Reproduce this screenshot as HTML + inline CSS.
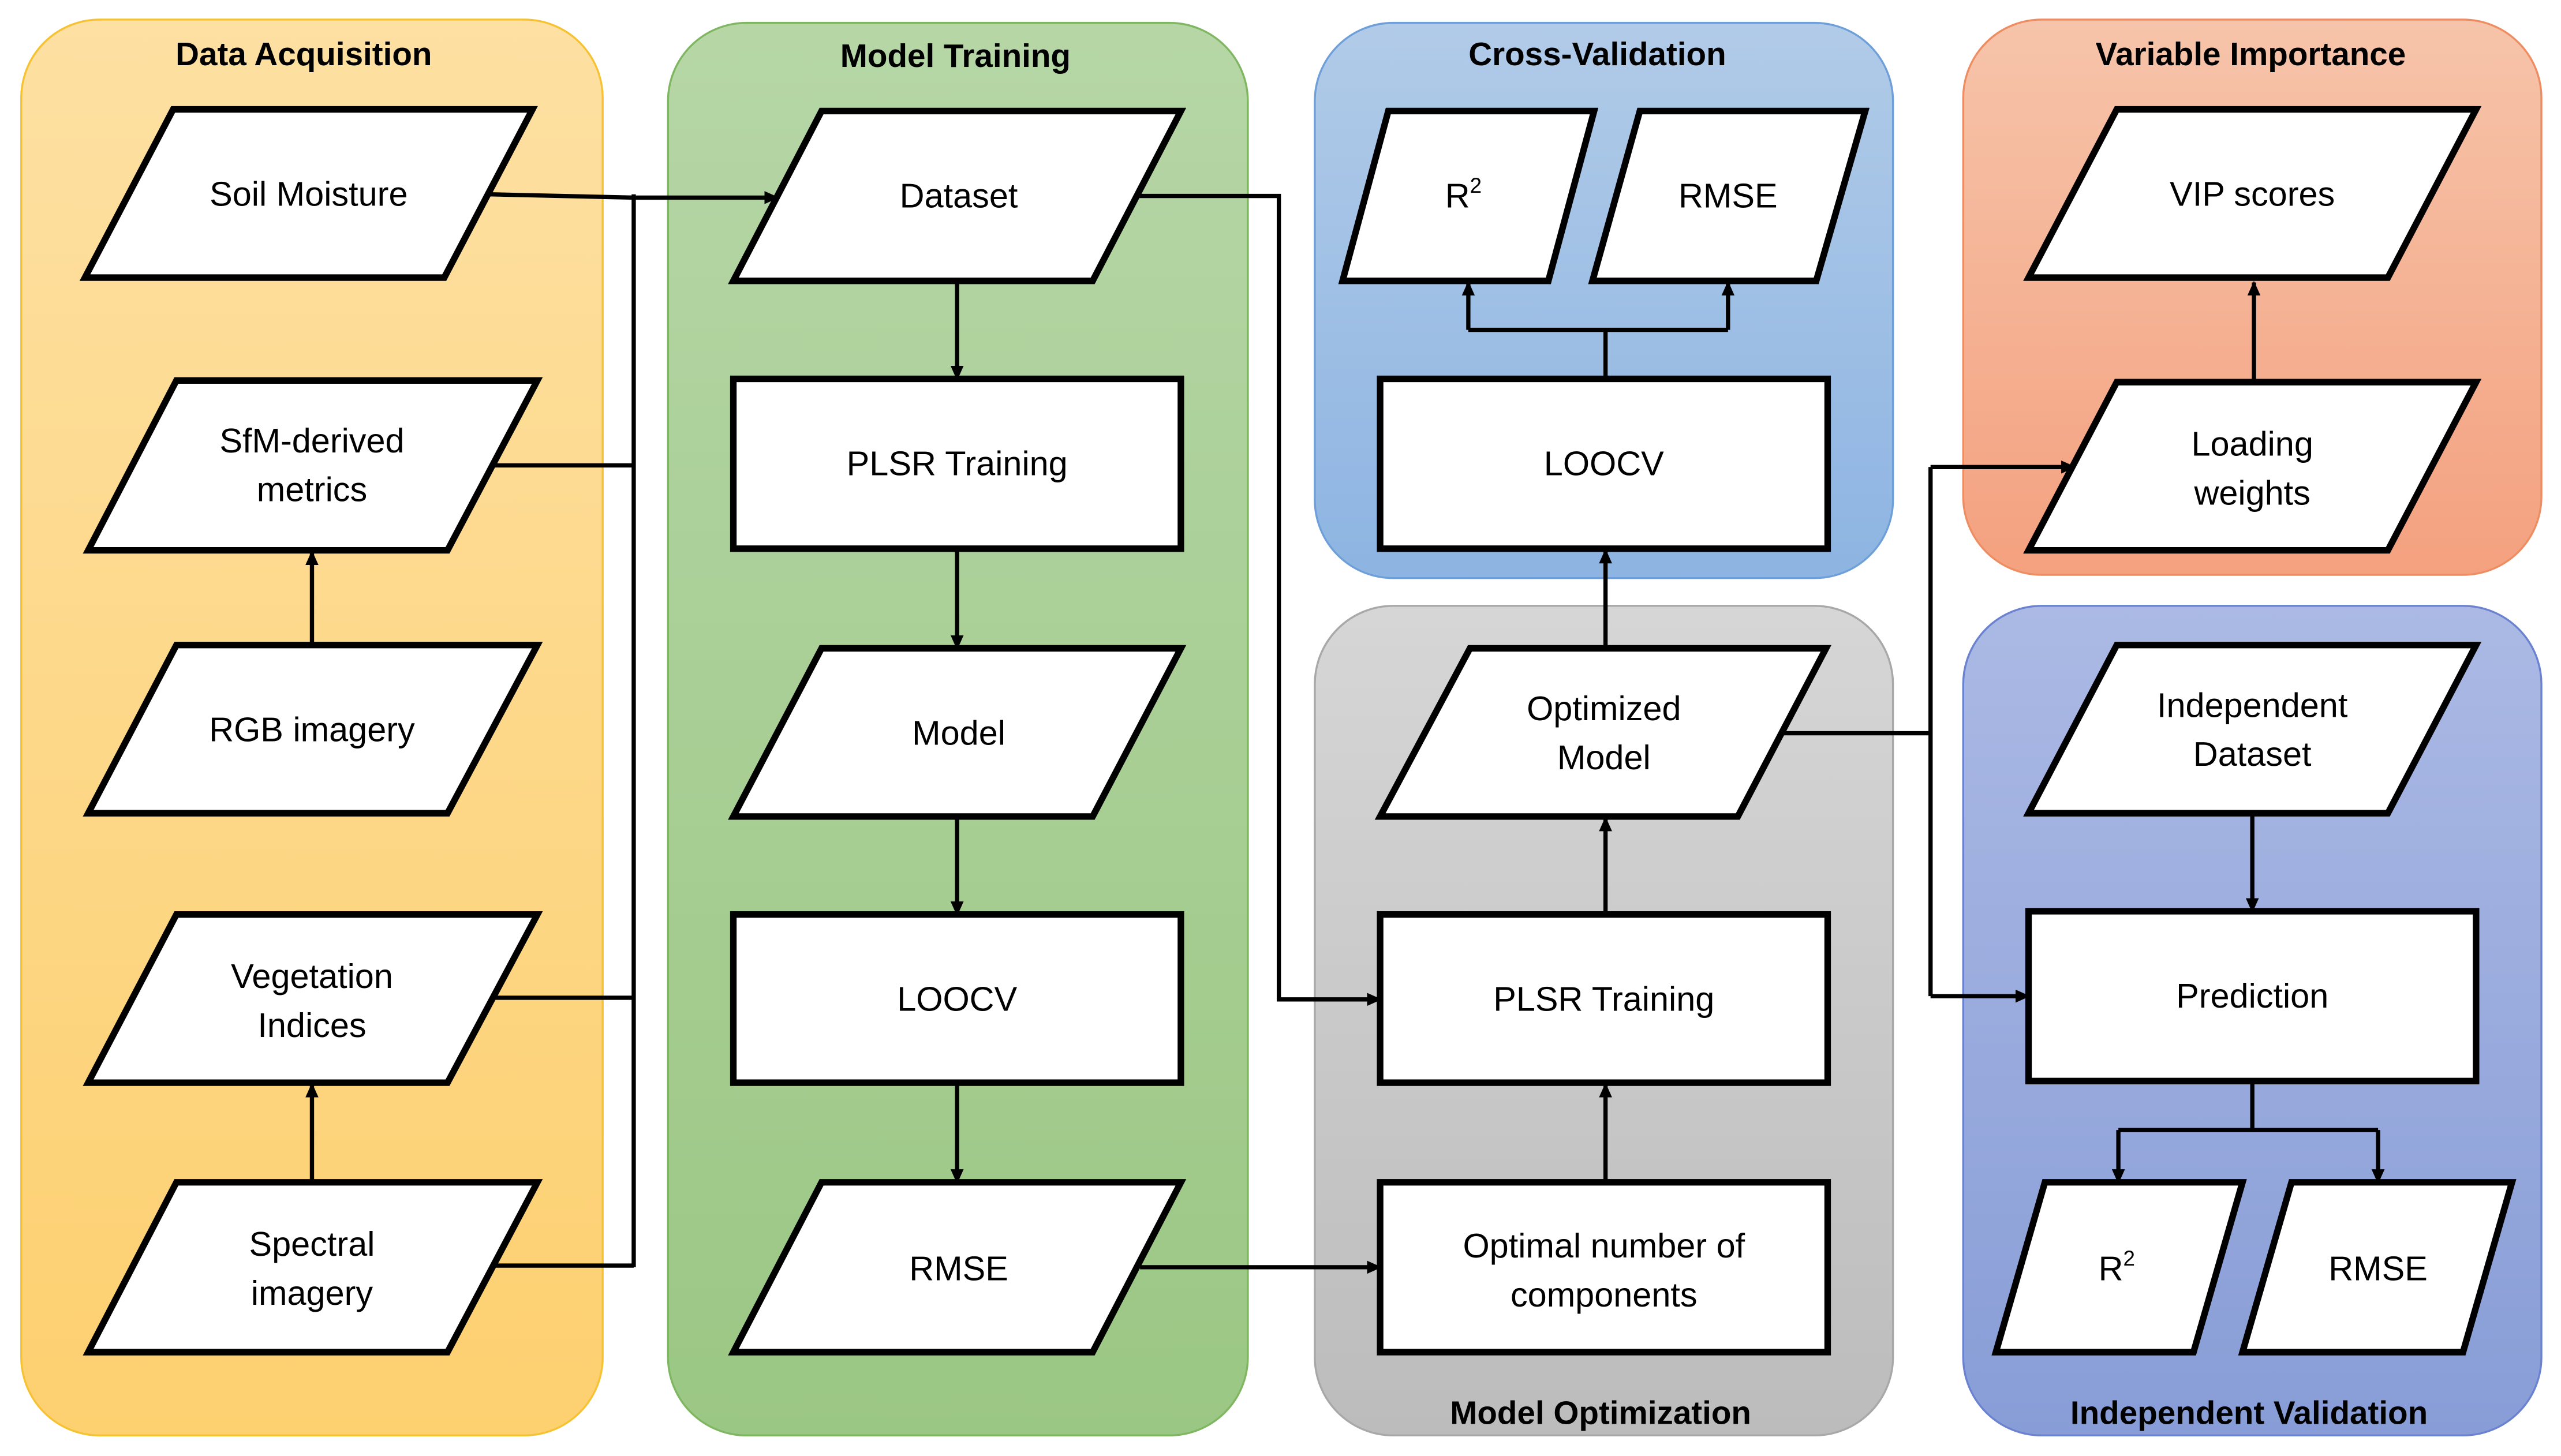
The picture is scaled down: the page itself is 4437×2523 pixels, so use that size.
<!DOCTYPE html>
<html><head><meta charset="utf-8"><style>
html,body{margin:0;padding:0;background:#fff;}
svg{display:block;}
text{font-family:"Liberation Sans",sans-serif;}
.t{font-size:20px;font-weight:bold;text-anchor:middle;fill:#000;}
.l{font-size:21px;text-anchor:middle;fill:#000;}
.s{fill:#fff;stroke:#000;stroke-width:4;}
.c{fill:none;stroke:#000;stroke-width:2.6;}
</style></head><body>
<svg width="4437" height="2523" viewBox="0 0 1568 891.6" preserveAspectRatio="none" xmlns="http://www.w3.org/2000/svg">
<defs>
<linearGradient id="gO" x1="0" y1="0" x2="0" y2="1"><stop offset="0" stop-color="#fde0a2"/><stop offset="1" stop-color="#fdd070"/></linearGradient>
<linearGradient id="gG" x1="0" y1="0" x2="0" y2="1"><stop offset="0" stop-color="#b6d6a6"/><stop offset="1" stop-color="#9bc784"/></linearGradient>
<linearGradient id="gB" x1="0" y1="0" x2="0" y2="1"><stop offset="0" stop-color="#b1cbe8"/><stop offset="1" stop-color="#8db4e2"/></linearGradient>
<linearGradient id="gY" x1="0" y1="0" x2="0" y2="1"><stop offset="0" stop-color="#d6d6d6"/><stop offset="1" stop-color="#bcbcbc"/></linearGradient>
<linearGradient id="gR" x1="0" y1="0" x2="0" y2="1"><stop offset="0" stop-color="#f6c4aa"/><stop offset="1" stop-color="#f4a17f"/></linearGradient>
<linearGradient id="gI" x1="0" y1="0" x2="0" y2="1"><stop offset="0" stop-color="#abb9e4"/><stop offset="1" stop-color="#889dd7"/></linearGradient>
<marker id="a" markerWidth="10" markerHeight="10" refX="8" refY="5" orient="auto" markerUnits="userSpaceOnUse"><path d="M0,1 L9,5 L0,9 z" fill="#000"/></marker>
</defs>
<rect x="0" y="0" width="1568" height="892" fill="#fff"/>
<!-- panels -->
<rect x="13" y="12" width="356" height="867" rx="48" fill="url(#gO)" stroke="#f6c232" stroke-width="1.2"/>
<rect x="409" y="14" width="355" height="865" rx="48" fill="url(#gG)" stroke="#7fb661" stroke-width="1.2"/>
<rect x="805" y="14" width="354" height="340" rx="48" fill="url(#gB)" stroke="#6e9fd8" stroke-width="1.2"/>
<rect x="805" y="371" width="354" height="508" rx="48" fill="url(#gY)" stroke="#a8a8a8" stroke-width="1.2"/>
<rect x="1202" y="12" width="354" height="340" rx="48" fill="url(#gR)" stroke="#ee8c62" stroke-width="1.2"/>
<rect x="1202" y="371" width="354" height="508" rx="48" fill="url(#gI)" stroke="#6a82cf" stroke-width="1.2"/>
<text class="t" x="186" y="40">Data Acquisition</text>
<text class="t" x="585" y="41">Model Training</text>
<text class="t" x="978" y="40">Cross-Validation</text>
<text class="t" x="1378" y="40">Variable Importance</text>
<text class="t" x="980" y="872">Model Optimization</text>
<text class="t" x="1377" y="872">Independent Validation</text>

<!-- connectors -->
<path class="c" d="M300,119 L388,121"/>
<path class="c" d="M388,121 L476,121" marker-end="url(#a)"/>
<path class="c" d="M388,119 L388,776 M302,285 L388,285 M302,611 L388,611 M302,775 L388,775"/>
<path class="c" d="M191,395 L191,338" marker-end="url(#a)"/>
<path class="c" d="M191,724 L191,664" marker-end="url(#a)"/>
<path class="c" d="M586,172 L586,232" marker-end="url(#a)"/>
<path class="c" d="M586,336 L586,397" marker-end="url(#a)"/>
<path class="c" d="M586,500 L586,560" marker-end="url(#a)"/>
<path class="c" d="M586,663 L586,724" marker-end="url(#a)"/>
<path class="c" d="M697,120 L783,120 L783,612 L845,612" marker-end="url(#a)"/>
<path class="c" d="M698,776 L845,776" marker-end="url(#a)"/>
<path class="c" d="M983,724 L983,664" marker-end="url(#a)"/>
<path class="c" d="M983,560 L983,501" marker-end="url(#a)"/>
<path class="c" d="M983,397 L983,337" marker-end="url(#a)"/>
<path class="c" d="M983,232 L983,202 M899,202 L1058,202"/>
<path class="c" d="M899,202 L899,173" marker-end="url(#a)"/>
<path class="c" d="M1058,202 L1058,173" marker-end="url(#a)"/>
<path class="c" d="M1092,449 L1182,449 M1182,286 L1182,610"/>
<path class="c" d="M1182,286 L1270,286" marker-end="url(#a)"/>
<path class="c" d="M1182,610 L1242,610" marker-end="url(#a)"/>
<path class="c" d="M1380,234 L1380,173" marker-end="url(#a)"/>
<path class="c" d="M1379,498 L1379,558" marker-end="url(#a)"/>
<path class="c" d="M1379,662 L1379,692 M1297,692 L1456,692"/>
<path class="c" d="M1297,692 L1297,724" marker-end="url(#a)"/>
<path class="c" d="M1456,692 L1456,724" marker-end="url(#a)"/>

<!-- column 1 -->
<polygon class="s" points="106,67 326,67 272,170 52,170"/>
<text class="l" x="189" y="126">Soil Moisture</text>
<polygon class="s" points="108,233 329,233 274,337 54,337"/>
<text class="l" x="191" y="277">SfM-derived</text><text class="l" x="191" y="307">metrics</text>
<polygon class="s" points="108,395 329,395 274,498 54,498"/>
<text class="l" x="191" y="454">RGB imagery</text>
<polygon class="s" points="108,560 329,560 274,663 54,663"/>
<text class="l" x="191" y="605">Vegetation</text><text class="l" x="191" y="635">Indices</text>
<polygon class="s" points="108,724 329,724 274,828 54,828"/>
<text class="l" x="191" y="769">Spectral</text><text class="l" x="191" y="799">imagery</text>

<!-- column 2 -->
<polygon class="s" points="503,68 723,68 669,172 449,172"/>
<text class="l" x="587" y="127">Dataset</text>
<rect class="s" x="449" y="232" width="274" height="104"/>
<text class="l" x="586" y="291">PLSR Training</text>
<polygon class="s" points="503,397 723,397 669,500 449,500"/>
<text class="l" x="587" y="456">Model</text>
<rect class="s" x="449" y="560" width="274" height="103"/>
<text class="l" x="586" y="619">LOOCV</text>
<polygon class="s" points="503,724 723,724 669,828 449,828"/>
<text class="l" x="587" y="784">RMSE</text>

<!-- column 3 -->
<polygon class="s" points="850,68 976,68 948,172 822,172"/>
<text class="l" x="896" y="127">R<tspan font-size="13" dy="-9">2</tspan></text>
<polygon class="s" points="1004,68 1142,68 1112,172 975,172"/>
<text class="l" x="1058" y="127">RMSE</text>
<rect class="s" x="845" y="232" width="274" height="104"/>
<text class="l" x="982" y="291">LOOCV</text>
<polygon class="s" points="900,397 1118,397 1064,500 845,500"/>
<text class="l" x="982" y="441">Optimized</text><text class="l" x="982" y="471">Model</text>
<rect class="s" x="845" y="560" width="274" height="103"/>
<text class="l" x="982" y="619">PLSR Training</text>
<rect class="s" x="845" y="724" width="274" height="104"/>
<text class="l" x="982" y="770">Optimal number of</text><text class="l" x="982" y="800">components</text>

<!-- column 4 -->
<polygon class="s" points="1296,67 1516,67 1462,170 1242,170"/>
<text class="l" x="1379" y="126">VIP scores</text>
<polygon class="s" points="1296,234 1516,234 1462,337 1242,337"/>
<text class="l" x="1379" y="279">Loading</text><text class="l" x="1379" y="309">weights</text>
<polygon class="s" points="1296,395 1516,395 1462,498 1242,498"/>
<text class="l" x="1379" y="439">Independent</text><text class="l" x="1379" y="469">Dataset</text>
<rect class="s" x="1242" y="558" width="274" height="104"/>
<text class="l" x="1379" y="617">Prediction</text>
<polygon class="s" points="1252,724 1373,724 1343,828 1222,828"/>
<text class="l" x="1296" y="784">R<tspan font-size="13" dy="-9">2</tspan></text>
<polygon class="s" points="1403,724 1538,724 1508,828 1373,828"/>
<text class="l" x="1456" y="784">RMSE</text>
</svg>
</body></html>
